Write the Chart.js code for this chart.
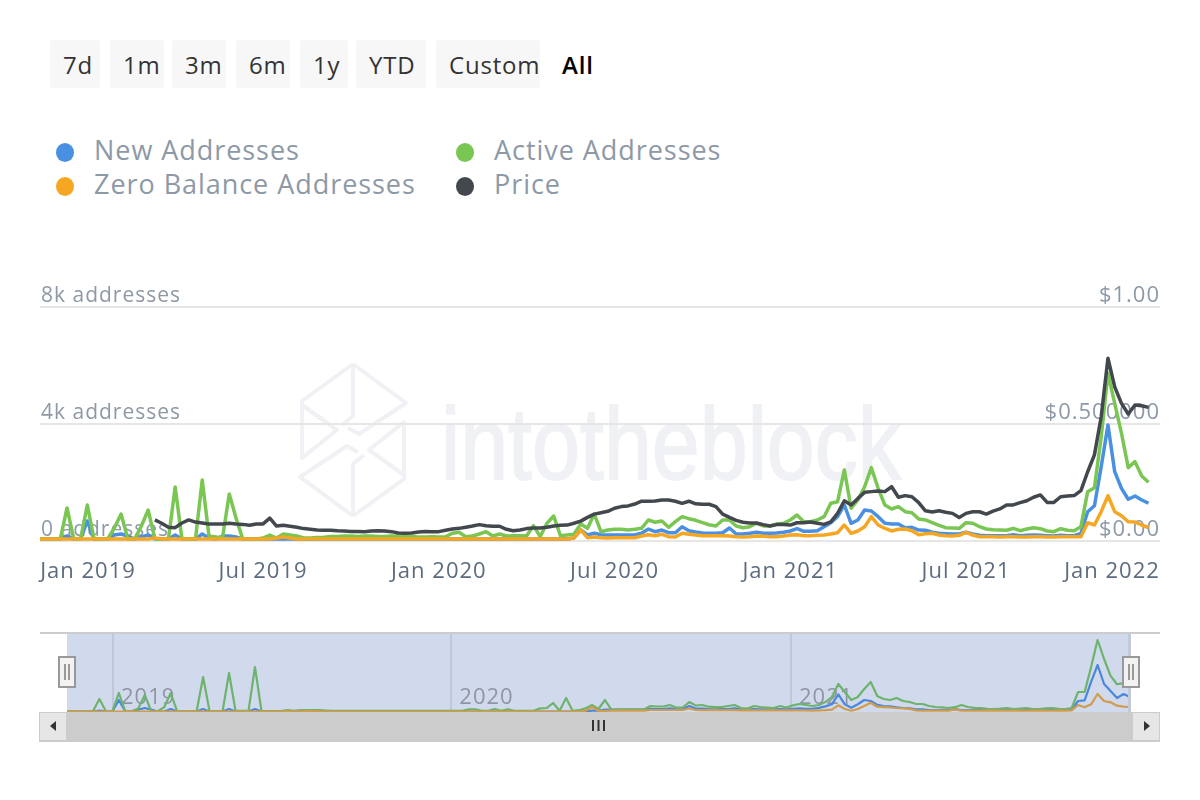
<!DOCTYPE html>
<html>
<head>
<meta charset="utf-8">
<title>Addresses chart</title>
<script src="https://cdn.jsdelivr.net/npm/chart.js@4"></script>
<style>
    html, body { margin: 0; padding: 0; background: #fff; }
    body { width: 1200px; height: 800px; position: relative; overflow: hidden; font-family: "Open Sans", sans-serif; }
    .abs { position: absolute; }
    .btn { position: absolute; top: 40px; height: 48px; line-height: 50px; background: #f7f7f7; border-radius: 3px; box-sizing: border-box; padding-left: 13px; color: #333; font-size: 24px; letter-spacing: 0.8px; white-space: nowrap; }
    .legend-dot { position: absolute; width: 18px; height: 19px; border-radius: 50%; }
    .legend-text { position: absolute; color: #8d99a6; font-size: 27px; line-height: 34px; letter-spacing: 0.95px; white-space: nowrap; }
    .handle { position: absolute; top: 656px; width: 14px; height: 28px; background: #f2f2f2; border: 2px solid #999; }
    .handle i { position: absolute; top: 6px; height: 16px; width: 2px; background: #999; }
    .sb-btn { position: absolute; top: 713px; width: 26px; height: 27px; background: #e6e6e6; }
</style>
</head>
<body>

<svg class="abs" style="left:0;top:0" width="1200" height="800">
    <g fill="none" stroke="#f0f1f5" stroke-width="4" stroke-linejoin="round">
        <g id="logo-half">
            <path d="M353 364 L406 403 L359 434 L348 428"/>
            <path d="M353 364 L302 401 L302 458 L337 430 L302 405"/>
            <path d="M353 364 L353 416 L342 425"/>
        </g>
        <use href="#logo-half" transform="rotate(180 353 440)"/>
    </g>
    <text x="441" y="479" fill="#f0f1f5" stroke="#f0f1f5" stroke-width="1.5" font-family="Liberation Sans" font-size="86" textLength="460" lengthAdjust="spacingAndGlyphs" transform="translate(0 -93) scale(1 1.195)">intotheblock</text>
</svg>

<div class="btn" style="left:50px;width:50px">7d</div>
<div class="btn" style="left:110px;width:54px">1m</div>
<div class="btn" style="left:172px;width:54px">3m</div>
<div class="btn" style="left:236px;width:54px">6m</div>
<div class="btn" style="left:300px;width:48px">1y</div>
<div class="btn" style="left:356px;width:70px">YTD</div>
<div class="btn" style="left:436px;width:104px">Custom</div>
<div class="btn" style="left:549px;width:50px;background:none;color:#000;font-weight:600">All</div>

<div class="legend-dot" style="left:56px;top:143px;background:#4a90e2"></div>
<div class="legend-text" style="left:94px;top:133px">New Addresses</div>
<div class="legend-dot" style="left:456px;top:143px;background:#7ac653"></div>
<div class="legend-text" style="left:494px;top:133px">Active Addresses</div>
<div class="legend-dot" style="left:56px;top:177px;background:#f5a623"></div>
<div class="legend-text" style="left:94px;top:167px">Zero Balance Addresses</div>
<div class="legend-dot" style="left:456px;top:177px;background:#43484e"></div>
<div class="legend-text" style="left:494px;top:167px">Price</div>

<canvas id="main-chart" class="abs" style="left:0;top:270px" width="1200" height="330"></canvas>

<div class="abs" style="left:40px;top:632px;width:1120px;height:2px;background:#ccc"></div>
<canvas id="nav-chart" class="abs" style="left:67px;top:634px" width="1063" height="78"></canvas>
<div class="abs" style="left:1128px;top:634px;width:3px;height:78px;background:#c3cad9"></div>

<div class="abs" style="left:39px;top:712px;width:1121px;height:30px;background:#ccc"></div>
<div class="sb-btn" style="left:40px"></div>
<div class="sb-btn" style="left:1133px"></div>
<svg class="abs" style="left:0;top:700px" width="1200" height="50">
    <path d="M50 26 L56 21 L56 31 Z" fill="#333"/>
    <path d="M1150 26 L1144 21 L1144 31 Z" fill="#333"/>
    <path d="M593 20 V31 M598.5 20 V31 M604 20 V31" stroke="#333" stroke-width="2"/>
</svg>
<div class="handle" style="left:58px"><i style="left:4px"></i><i style="left:8px"></i></div>
<div class="handle" style="left:1122px"><i style="left:4px"></i><i style="left:8px"></i></div>

<script>
// weekly samples
const newAddresses = [65,65,65,65,170,65,65,684,65,65,
    65,205,240,170,65,137,205,68,65,65,
    205,65,65,65,240,100,65,170,170,137,
    65,65,65,65,65,65,65,65,65,65,
    65,65,65,65,65,65,65,65,65,65,
    65,65,65,65,65,65,65,65,65,65,
    65,65,65,65,65,65,65,65,65,65,
    65,65,65,65,65,65,65,65,65,105,
    376,205,263,215,205,205,205,205,205,263,
    410,318,376,284,284,489,352,308,274,263,
    263,284,445,240,240,263,298,263,263,274,
    298,342,421,332,332,352,489,626,831,1231,
    605,718,1060,1026,831,605,581,581,455,469,
    376,366,298,263,250,240,240,298,240,195,
    181,181,181,181,215,181,195,205,195,181,
    171,195,181,181,263,1002,1207,2541,3967,2370,
    1802,1426,1539,1402,1289];
const activeAddresses = [65,65,65,65,1130,65,65,1231,65,65,
    65,445,923,65,65,513,1060,65,65,65,
    1847,65,65,65,2086,171,137,103,1607,787,
    65,65,68,103,205,103,239,205,171,103,
    100,120,130,150,150,170,170,150,170,170,
    150,150,170,170,170,150,135,140,147,137,
    147,263,298,147,171,239,318,171,239,171,
    181,181,181,523,147,605,855,181,205,229,
    581,434,923,318,376,400,400,376,400,434,
    718,640,684,469,660,831,763,708,626,557,
    513,718,718,513,455,489,605,513,513,581,
    605,718,889,660,660,718,831,1289,1344,2428,
    1118,1402,1857,2507,1802,1231,1094,1173,1002,968,
    752,718,626,537,455,445,434,626,605,489,
    410,386,376,366,434,352,410,455,421,342,
    318,421,366,352,489,1686,1823,3557,5735,4709,
    3683,2507,2712,2223,2008];
const zeroBalanceAddresses = [65,65,65,65,65,65,65,65,65,65,
    65,65,65,65,65,65,65,103,65,65,
    65,65,65,65,65,65,65,65,65,65,
    65,65,65,65,65,103,137,100,65,65,
    65,65,65,65,65,65,65,65,65,65,
    65,65,65,65,65,65,65,65,65,65,
    65,65,65,65,65,65,65,65,65,65,
    65,65,65,65,65,65,65,65,65,103,
    376,113,137,113,103,113,113,113,113,171,
    215,181,229,147,137,263,229,205,181,181,
    181,181,171,147,137,147,171,161,147,147,
    171,205,215,181,181,195,205,239,284,547,
    263,342,489,831,547,434,342,400,410,352,
    215,250,263,205,181,171,195,298,205,147,
    147,147,137,147,147,137,137,147,147,137,
    137,147,147,147,147,626,547,1002,1549,1002,
    865,660,650,547,455];
const price = [null,null,null,null,null,null,null,null,null,null,
    null,null,null,null,null,null,null,.090,.076,.059,
    .057,.077,.090,.081,.077,.073,.073,.073,.076,.073,
    .071,.067,.073,.073,.098,.064,.067,.063,.059,.053,
    .050,.047,.046,.046,.044,.043,.041,.041,.040,.043,
    .044,.043,.040,.034,.033,.034,.038,.041,.040,.040,
    .046,.051,.054,.059,.064,.070,.065,.063,.063,.050,
    .044,.047,.053,.056,.056,.059,.064,.067,.068,.076,
    .085,.101,.115,.121,.127,.140,.147,.150,.158,.170,
    .170,.171,.175,.175,.170,.161,.170,.159,.157,.157,
    .147,.115,.101,.088,.080,.077,.077,.070,.064,.070,
    .071,.068,.078,.078,.081,.076,.071,.082,.118,.172,
    .154,.182,.208,.211,.214,.211,.232,.187,.194,.189,
    .164,.129,.124,.129,.123,.118,.100,.118,.125,.125,
    .115,.128,.137,.154,.154,.164,.172,.187,.197,.165,
    .165,.189,.192,.194,.215,.296,.368,.531,.781,.659,
    .588,.543,.581,.578,.571];

// the navigator below draws its own grouping of the same data
const navNew = [40,40,40,40,40,120,40,40,996,40,
    40,200,332,200,40,40,250,40,40,40,
    40,250,40,40,40,250,40,40,40,250,
    40,40,40,40,40,40,40,40,40,40,
    40,40,40,40,40,40,40,40,40,40,
    40,40,40,40,40,40,40,40,40,40,
    40,40,40,40,40,40,40,40,40,40,
    40,40,40,40,40,40,40,40,40,40,
    40,120,120,200,200,200,200,200,200,200,
    270,250,250,300,230,250,500,280,290,250,
    230,240,240,300,200,200,240,230,210,220,
    240,230,270,300,260,270,340,470,640,1469,
    640,357,640,996,913,600,498,473,390,332,
    300,224,230,166,166,166,166,250,166,166,
    166,166,166,166,166,166,166,166,166,166,
    166,166,166,166,166,190,913,971,2500,3900,
    2324,1743,1162,1494,1245];
const navActive = [60,60,60,60,60,1079,60,60,1577,60,
    60,300,1411,60,60,400,1577,60,60,60,
    60,2905,60,60,60,3237,100,100,100,3735,
    100,80,80,80,166,100,150,160,160,150,
    120,100,100,100,100,100,100,100,100,100,
    100,100,100,100,100,100,100,100,100,100,
    100,100,230,230,100,100,250,100,220,90,
    100,100,100,300,330,747,100,1162,100,150,
    300,581,250,996,180,210,210,210,210,210,
    500,455,455,581,373,373,830,540,580,440,
    400,415,500,580,330,290,498,415,370,332,
    498,373,550,664,580,500,580,830,1245,2324,
    1660,996,1245,1909,2490,1328,1079,996,1162,913,
    830,664,664,498,415,380,332,400,581,415,
    350,332,260,250,280,332,250,280,332,250,
    249,300,332,260,249,332,1660,1660,3735,5976,
    4398,3000,2300,2400,3300];
const navZero = [40,40,40,40,40,40,40,40,40,40,
    40,40,40,40,40,40,40,40,40,40,
    40,40,40,40,40,40,40,40,40,40,
    40,40,40,40,80,40,60,80,80,60,
    40,40,40,40,40,40,40,40,40,40,
    40,40,40,40,40,40,40,40,40,40,
    40,40,40,40,40,40,40,40,40,40,
    40,40,40,40,40,40,40,40,40,40,
    100,415,100,100,120,120,120,120,120,120,
    166,166,166,166,166,166,290,166,150,150,
    150,150,150,150,140,140,140,140,140,140,
    140,140,140,140,140,108,130,150,190,556,
    249,108,250,498,772,440,400,390,330,307,
    260,141,108,108,108,108,108,224,108,108,
    108,108,108,108,108,108,108,108,108,108,
    108,108,108,108,108,130,581,390,639,1494,
    913,805,523,450,415];

const weeks = newAddresses.map(function(v, i) { return i; });

const xTickWeeks = [7.1, 33, 59, 85, 111, 137, 158.6];
const xTickLabels = ['Jan 2019', 'Jul 2019', 'Jan 2020', 'Jul 2020', 'Jan 2021', 'Jul 2021', 'Jan 2022'];
const leftTickLabels = ['0 addresses', '4k addresses', '8k addresses'];
const rightTickLabels = ['$0.00', '$0.500000', '$1.00'];
const navTickWeeks = [7.1, 59.3, 111.7];
const navTickLabels = ['2019', '2020', '2021'];

const axisFont = '"Open Sans", sans-serif';
const tickColor = '#8d99a6';

function series(values, color, axis, width) {
    return {
        data: weeks.map(function(w, i) { return { x: w, y: values[i] }; }),
        borderColor: color,
        borderWidth: width,
        pointRadius: 0,
        tension: 0,
        yAxisID: axis,
        clip: false,
        borderJoinStyle: 'round'
    };
}

// letter spacing for the axis text
const spacedText = {
    id: 'spacedText',
    beforeDraw: function(chart) { chart.ctx.letterSpacing = '1px'; }
};

new Chart(document.getElementById('main-chart'), {
    type: 'line',
    plugins: [spacedText],
    data: {
        datasets: [
            series(price, '#43484e', 'yPrice', 3.5),
            series(zeroBalanceAddresses, '#f5a623', 'y', 3.5),
            series(activeAddresses, '#7ac653', 'y', 3.5),
            series(newAddresses, '#4a90e2', 'y', 3.5)
        ]
    },
    options: {
        responsive: false,
        animation: false,
        layout: { padding: { left: 40, right: 40, top: 37, bottom: 0 } },
        plugins: { legend: { display: false }, tooltip: { enabled: false } },
        scales: {
            x: {
                type: 'linear',
                min: 0,
                max: 165.7,
                grid: { display: false },
                border: { display: false },
                afterBuildTicks: function(scale) {
                    scale.ticks = xTickWeeks.map(function(v) { return { value: v }; });
                },
                afterFit: function(scale) { scale.height = 59; },
                ticks: {
                    autoSkip: false,
                    maxRotation: 0,
                    padding: 10,
                    color: '#5c6b7f',
                    font: { family: axisFont, size: 22 },
                    callback: function(value, index) { return xTickLabels[index]; }
                }
            },
            y: {
                position: 'left',
                min: 0,
                max: 8000,
                afterBuildTicks: function(scale) {
                    scale.ticks = [0, 4000, 8000].map(function(v) { return { value: v }; });
                },
                afterFit: function(scale) { scale.width = 0; },
                grid: { color: '#e6e6e6', lineWidth: 2, drawTicks: false },
                border: { display: false },
                ticks: {
                    mirror: true,
                    padding: 1,
                    labelOffset: -11,
                    color: tickColor,
                    font: { family: axisFont, size: 21 },
                    callback: function(value, index) { return leftTickLabels[index]; }
                }
            },
            yPrice: {
                position: 'right',
                min: 0,
                max: 1,
                afterBuildTicks: function(scale) {
                    scale.ticks = [0, 0.5, 1].map(function(v) { return { value: v }; });
                },
                afterFit: function(scale) { scale.width = 0; },
                grid: { display: false },
                border: { display: false },
                ticks: {
                    mirror: true,
                    padding: 0,
                    labelOffset: -11,
                    color: tickColor,
                    font: { family: axisFont, size: 22 },
                    callback: function(value, index) { return rightTickLabels[index]; }
                }
            }
        }
    }
});

// navigator
new Chart(document.getElementById('nav-chart'), {
    type: 'line',
    plugins: [spacedText, {
        id: 'navBackground',
        beforeDraw: function(chart) {
            chart.ctx.fillStyle = '#d1d9ec';
            chart.ctx.fillRect(0, 0, chart.width, chart.height);
        }
    }],
    data: {
        datasets: [
            series(navZero, '#d19c4c', 'y', 2.2),
            series(navActive, '#6db36d', 'y', 2.2),
            series(navNew, '#4a88dc', 'y', 2.2)
        ]
    },
    options: {
        responsive: false,
        animation: false,
        layout: { padding: 0 },
        plugins: { legend: { display: false }, tooltip: { enabled: false } },
        scales: {
            x: {
                type: 'linear',
                min: 0,
                max: 164,
                afterBuildTicks: function(scale) {
                    scale.ticks = navTickWeeks.map(function(v) { return { value: v }; });
                },
                afterFit: function(scale) { scale.height = 0; },
                grid: { color: '#bfc7d8', lineWidth: 2, drawTicks: false },
                border: { display: false },
                ticks: {
                    autoSkip: false,
                    maxRotation: 0,
                    mirror: true,
                    align: 'start',
                    padding: 1,
                    labelOffset: 8,
                    color: '#8f95a3',
                    font: { family: axisFont, size: 22 },
                    callback: function(value, index) { return navTickLabels[index]; }
                }
            },
            y: {
                display: false,
                min: 0,
                max: 6474
            }
        }
    }
});
</script>
</body>
</html>
